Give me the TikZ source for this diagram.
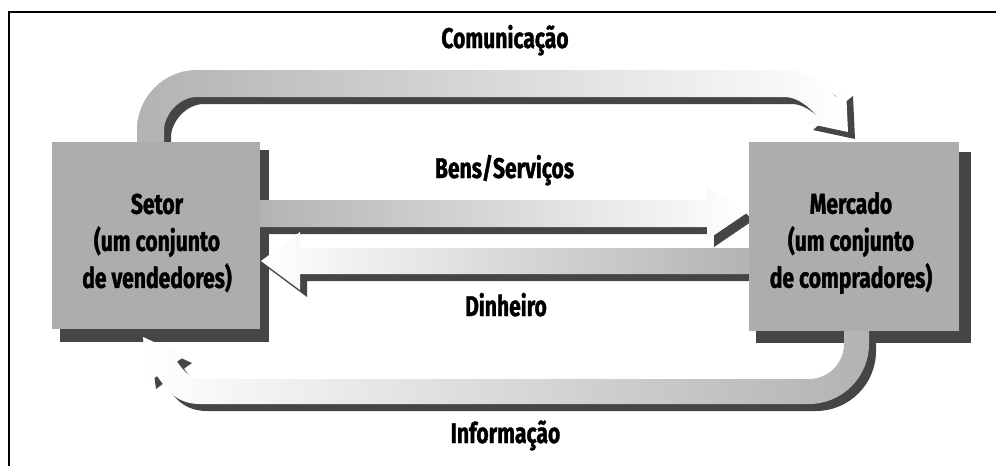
\documentclass[tikz,border=0pt]{standalone}
\usepackage{fontspec}
\newfontfamily\lblfont{Fira Sans}[FakeStretch=0.74, FakeBold=1.2]
\definecolor{boxgray}{gray}{0.68}
\definecolor{bandgray}{gray}{0.70}
\definecolor{shadowgray}{gray}{0.27}
\tikzset{
  lbl/.style={font=\lblfont\bfseries\fontsize{28.5}{37}\selectfont, inner sep=0pt, align=center},
  boxstyle/.style={fill=boxgray, draw=none},
  shadowstyle/.style={fill=shadowgray, draw=none},
  frame/.style={line width=2.5pt, line join=miter},
}
\def\pathC{(137,142) -- (137,130) .. controls (137,96.9) and (163.9,70) .. (197,70) -- (785,70) .. controls (812,70) and (829.6,89.3) .. (836,97) -- (846,89) -- (848,132) -- (806,123) -- (815.7,114.7) .. controls (810.6,108.6) and (798,97) .. (785,97) -- (197,97) .. controls (178.8,97) and (164,115.2) .. (164,130) -- (164,142) -- cycle}
\def\pathB{(255,200) -- (707,200) -- (707,187) -- (746,213.5) -- (707,240) -- (707,227) -- (255,227) -- cycle}
\def\shadB{(262,220) -- (707,220) -- (746,213.5) -- (753,220.5) -- (714,247) -- (714,234) -- (262,234) -- cycle}
\def\pathD{(754,248) -- (300,248) -- (300,232) -- (261,261) -- (300,290) -- (300,274) -- (754,274) -- cycle}
\def\shadD{(261,261) -- (268,268) -- (307,297) -- (307,281) -- (761,281) -- (761,261) -- cycle}
\def\pathI{(844,326) -- (844,344) .. controls (844,363.3) and (828.3,379) .. (809,379) -- (200,379) .. controls (190,379) and (181.7,368.5) .. (177,361.6) -- (185,356) -- (143,337) -- (149,382) -- (157,376) .. controls (166,388) and (175,404) .. (200,404) -- (809,404) .. controls (842.1,404) and (869,377.1) .. (869,344) -- (869,326) -- cycle}
\begin{document}
\begin{tikzpicture}[x=1pt,y=-1pt]
\useasboundingbox (0,0) rectangle (996,466);
\fill[white] (0,0) rectangle (996,466);
\draw[frame] (9,466) -- (9,12) -- (996,12);
% box shadows
\fill[shadowstyle] (60,150) rectangle (269,342);
\fill[shadowstyle] (756,152) rectangle (971,343);
% band shadows
\fill[shadowstyle] \shadB;
\fill[shadowstyle] \shadD;
\begin{scope}[shift={(7,7)}]
\fill[shadowstyle] \pathC;
\fill[shadowstyle] \pathI;
\end{scope}
% bands
\shade[left color=bandgray, right color=white] \pathC;
\shade[left color=bandgray, right color=white] \pathB;
\shade[left color=white, right color=bandgray] \pathD;
\shade[left color=white, right color=bandgray] \pathI;
% boxes
\fill[boxstyle] (52,142) rectangle (260,329);
\fill[boxstyle] (749,142) rectangle (959,331);
\node[lbl] (setor) at (157,243) {Setor\\(um conjunto\\de vendedores)};
\node[lbl] (mercado) at (851,243) {Mercado\\(um conjunto\\de compradores)};
% labels
\node[lbl, anchor=base] (com) at (505,48) {Comunicação};
\node[lbl, anchor=base] (bens) at (504.5,178) {Bens/Serviços};
\node[lbl, anchor=base] (din) at (506,316) {Dinheiro};
\node[lbl, anchor=base] (inf) at (505.5,443) {Informação};
\end{tikzpicture}
\end{document}
